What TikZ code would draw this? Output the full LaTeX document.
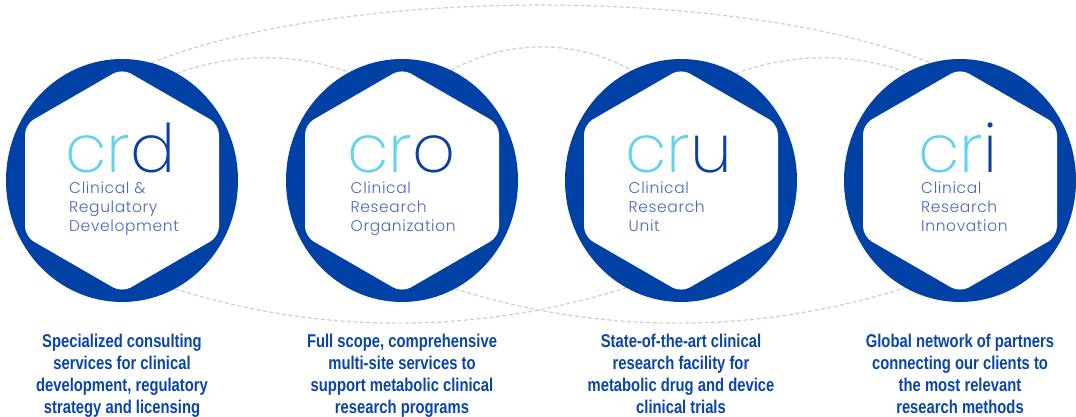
\documentclass[tikz,border=0pt]{standalone}
\usepackage{fontspec}
\usetikzlibrary{shapes.geometric}
\newfontfamily\capfont{Liberation Sans}[FakeStretch=0.80]
\newfontfamily\bigfont{Poppins}[UprightFont=* ExtraLight]
\newfontfamily\lblfont{Poppins}[UprightFont=* Light, LetterSpace=4]
\definecolor{ringblue}{HTML}{0041A6}
\definecolor{capblue}{HTML}{0A46AA}
\definecolor{cyanc}{HTML}{62D2EE}
\definecolor{deepc}{HTML}{0B3FA2}
\definecolor{lblblue}{HTML}{4867C2}
\definecolor{dashgray}{HTML}{CFCFCF}
\pgfdeclarelayer{bg}
\pgfsetlayers{bg,main}
\begin{document}
\begin{tikzpicture}[x=1pt,y=1pt,
  ring/.style={ellipse, fill=ringblue, minimum width=232pt, minimum height=243pt, inner sep=0pt, outer sep=0pt},
  hexw/.style={fill=white, rounded corners=10pt},
  orbit/.style={draw=dashgray, line width=1.2pt, dash pattern=on 4pt off 2.5pt},
  abbr/.style={anchor=base west, inner sep=0pt, text depth=0pt, font=\bigfont\fontsize{67}{67}\selectfont},
  lbl/.style={anchor=base west, inner sep=0pt, align=left, text=lblblue, font=\lblfont\fontsize{15.5}{19}\selectfont},
  captxt/.style={anchor=base, inner sep=0pt, align=center, text=capblue, font=\capfont\bfseries\fontsize{18.5}{21.8}\selectfont}
]
\useasboundingbox (0,0) rectangle (1076,417);
\begin{pgfonlayer}{bg}
\fill[white] (0,0) rectangle (1076,417);
\end{pgfonlayer}

\node[ring] (c1) at (122,236.5) {};
\node[ring] (c2) at (402,236.5) {};
\node[ring] (c3) at (681,236.5) {};
\node[ring] (c4) at (960,236.5) {};

\foreach \c in {c1,c2,c3,c4}{
  \begin{scope}[shift={(\c.center)}]
    \fill[hexw] (0,112) -- (97,56) -- (97,-56) -- (0,-112) -- (-97,-56) -- (-97,56) -- cycle;
  \end{scope}
}

\node[abbr] (a1) at (65,244) {\textcolor{cyanc}{cr}\textcolor{deepc}{d}};
\node[lbl] (l1) at (69,185) {Clinical \&\\Regulatory\\Development};
\node[abbr] (a2) at (347,244) {\textcolor{cyanc}{cr}\textcolor{deepc}{o}};
\node[lbl] (l2) at (350.5,185) {Clinical\\Research\\Organization};
\node[abbr] (a3) at (625,244) {\textcolor{cyanc}{cr}\textcolor{deepc}{u}};
\node[lbl] (l3) at (628.5,185) {Clinical\\Research\\Unit};
\node[abbr] (a4) at (918,244) {\textcolor{cyanc}{cr}\textcolor{deepc}{i}};
\node[lbl] (l4) at (921,185) {Clinical\\Research\\Innovation};

\node[captxt] (d1) at (122,3.7) {Specialized consulting\\services for clinical\\development, regulatory\\strategy and licensing};
\node[captxt] (d2) at (402,3.7) {Full scope, comprehensive\\multi-site services to\\support metabolic clinical\\research programs};
\node[captxt] (d3) at (681,3.7) {State-of-the-art clinical\\research facility for\\metabolic drug and device\\clinical trials};
\node[captxt] (d4) at (960,3.7) {Global network of partners\\connecting our clients to\\the most relevant\\research methods};

\begin{pgfonlayer}{bg}
\draw[orbit] (c1.76) to[out=22,in=158,distance=206pt] (c4.104);
\draw[orbit] (c1.63.4) to[out=19.8,in=160.2,distance=59pt] (c2.116.6);
\draw[orbit] (c2.66) to[out=29.1,in=150.9,distance=64.4pt] (c3.114);
\draw[orbit] (c3.63.4) to[out=19.8,in=160.2,distance=59pt] (c4.116.6);
\draw[orbit] (c1.296.5) to[out=-17.6,in=197.6,distance=154pt] (c3.243.5);
\draw[orbit] (c2.296.5) to[out=-17.6,in=197.6,distance=154pt] (c4.243.5);
\end{pgfonlayer}
\end{tikzpicture}
\end{document}
